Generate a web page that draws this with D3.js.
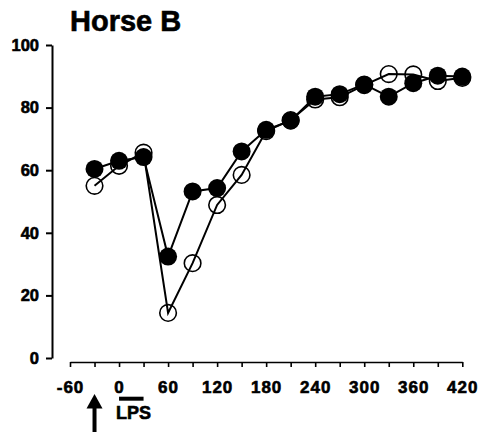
<!DOCTYPE html>
<html>
<head>
<meta charset="utf-8">
<script src="https://cdn.jsdelivr.net/npm/d3@7"></script>
<style>
  html, body { margin: 0; padding: 0; background: #fff; }
  svg { display: block; font-family: "Liberation Sans", Arial, sans-serif; }
  .heavy { stroke: #000; stroke-width: 0.6px; }
</style>
</head>
<body>
<svg id="chart" width="484" height="432"></svg>
<script>
// Sampling times (min) relative to LPS infusion
const times = [-30, 0, 30, 60, 90, 120, 150, 180, 210, 240, 270, 300, 330, 360, 390, 420];
// Filled-circle series
const filledSeries = [60.4, 63, 64.2, 32.4, 53.2, 54.3, 66, 72.9, 75.8, 83.5, 84.3, 87.4, 83.5, 87.8, 90.2, 89.9];
// Open-circle series
const openSeries = [55, 61.4, 65.6, 14.4, 30.3, 48.9, 58.5, 72.5, 76, 82.6, 83.3, 87.2, 90.7, 90.6, 88.5, 89.5];
// Axis ticks
const xTicks = d3.range(-60, 421, 30);
const xLabels = [-60, 0, 60, 120, 180, 240, 300, 360, 420];
const yTicks = [0, 20, 40, 60, 80, 100];
const titleText = "Horse B";
const lpsText = "LPS";
const lpsWindow = [0, 30];
const arrowTime = -30;

const svg = d3.select("#chart");

const x = d3.scaleLinear().domain([-60, 420]).range([70, 462.3]);
const y = d3.scaleLinear().domain([0, 100]).range([358, 45]);

// Title
svg.append("text")
  .attr("class", "heavy")
  .attr("x", 70).attr("y", 31)
  .attr("font-size", 29).attr("font-weight", "bold")
  .text(titleText);

// Y axis (offset from x axis)
const yAxis = svg.append("g")
  .attr("transform", "translate(52,0)")
  .call(d3.axisLeft(y).tickValues(yTicks).tickSize(6).tickSizeOuter(0).tickPadding(7));
yAxis.select(".domain").attr("stroke-width", 2);
yAxis.selectAll(".tick line").attr("stroke-width", 2);
yAxis.selectAll("text").attr("class", "heavy")
  .attr("font-size", 16.5).attr("font-weight", "bold").attr("fill", "#000");

// X axis
const xAxis = svg.append("g")
  .attr("transform", "translate(0,362)")
  .call(d3.axisBottom(x).tickValues(xTicks).tickSize(5).tickSizeOuter(0).tickPadding(13.5)
    .tickFormat(d => xLabels.includes(d) ? d : ""));
xAxis.select(".domain").attr("stroke-width", 1.6);
xAxis.selectAll(".tick line").attr("stroke-width", 1.6);
xAxis.selectAll("text").attr("class", "heavy")
  .attr("font-size", 17).attr("font-weight", "bold")
  .attr("letter-spacing", 1).attr("fill", "#000");

// LPS infusion bar and label
svg.append("line")
  .attr("x1", x(lpsWindow[0])).attr("x2", x(lpsWindow[1]))
  .attr("y1", 398.7).attr("y2", 398.7)
  .attr("stroke", "#000").attr("stroke-width", 4);
svg.append("text")
  .attr("class", "heavy")
  .attr("x", x(lpsWindow[0]) - 3).attr("y", 419.3)
  .attr("font-size", 18).attr("font-weight", "bold")
  .text(lpsText);

// Arrow marking pre-treatment time
const ax = x(arrowTime);
svg.append("line")
  .attr("x1", ax).attr("x2", ax).attr("y1", 405).attr("y2", 432)
  .attr("stroke", "#000").attr("stroke-width", 4);
svg.append("path")
  .attr("d", `M${ax},394 L${ax - 8},408.5 L${ax + 8},408.5 Z`)
  .attr("fill", "#000");

const line = d3.line().x(d => x(d[0])).y(d => y(d[1]));
const openPts = times.map((t, i) => [t, openSeries[i]]);
const filledPts = times.map((t, i) => [t, filledSeries[i]]);

// Open-circle series
svg.append("path").datum(openPts)
  .attr("d", line).attr("fill", "none").attr("stroke", "#000").attr("stroke-width", 2);
svg.append("g").selectAll("circle").data(openPts).join("circle")
  .attr("cx", d => x(d[0])).attr("cy", d => y(d[1])).attr("r", 8.3)
  .attr("fill", "none").attr("stroke", "#000").attr("stroke-width", 1.6);

// Filled-circle series
svg.append("path").datum(filledPts)
  .attr("d", line).attr("fill", "none").attr("stroke", "#000").attr("stroke-width", 2);
svg.append("g").selectAll("circle").data(filledPts).join("circle")
  .attr("cx", d => x(d[0])).attr("cy", d => y(d[1])).attr("r", 9)
  .attr("fill", "#000");
</script>
</body>
</html>
